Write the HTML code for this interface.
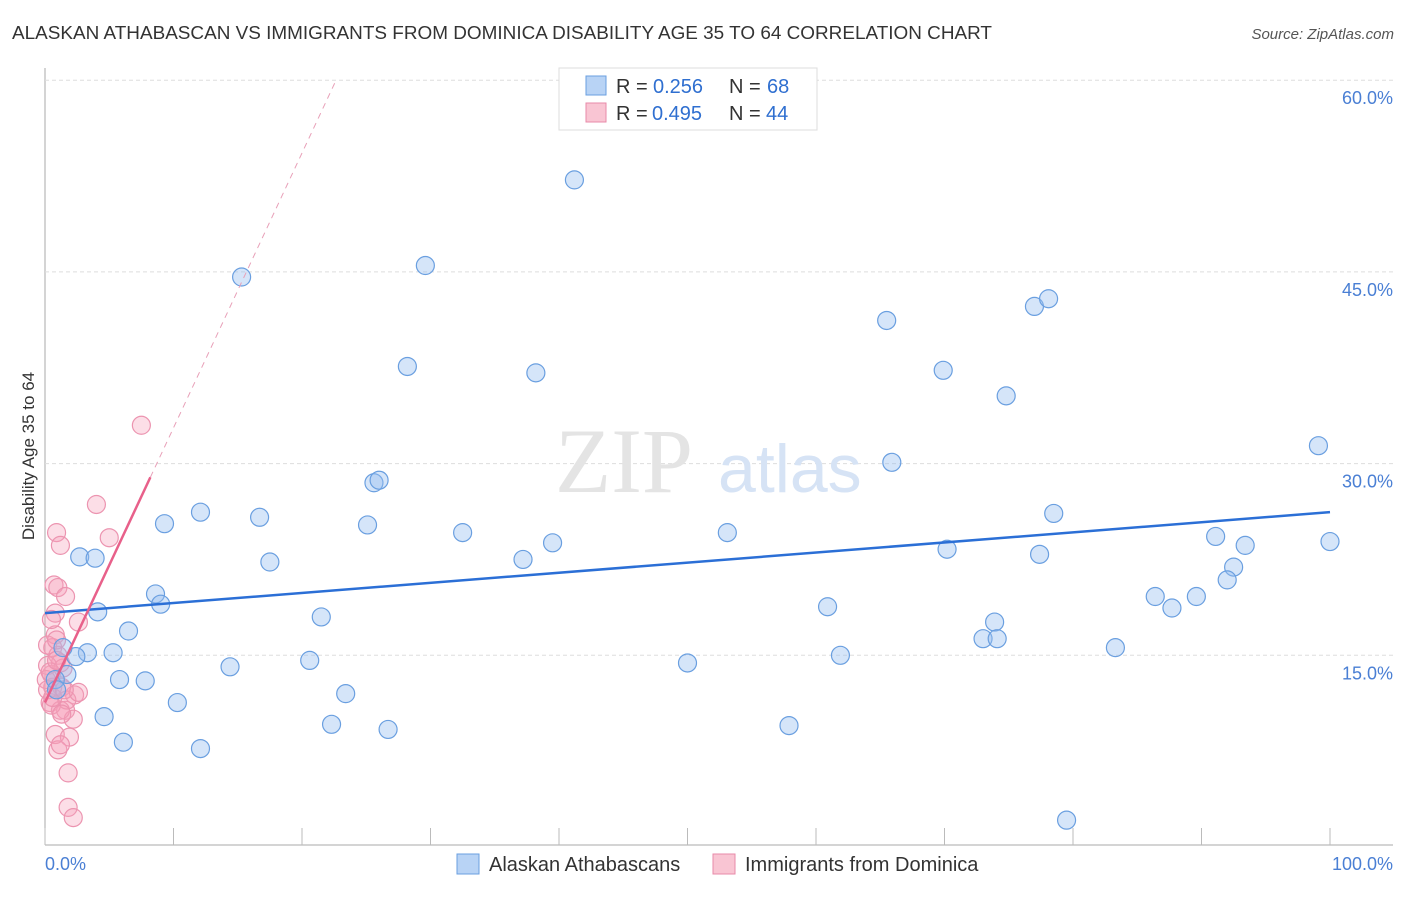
<!DOCTYPE html>
<html><head><meta charset="utf-8"><style>
body{margin:0;background:#fff;font-family:"Liberation Sans",sans-serif;}
</style></head><body>
<svg width="1406" height="892" xmlns="http://www.w3.org/2000/svg" font-family="Liberation Sans, sans-serif">
<text x="12" y="39" font-size="18" fill="#333" textLength="980" lengthAdjust="spacingAndGlyphs">ALASKAN ATHABASCAN VS IMMIGRANTS FROM DOMINICA DISABILITY AGE 35 TO 64 CORRELATION CHART</text>
<text x="1394" y="39" font-size="15" fill="#555" font-style="italic" text-anchor="end">Source: ZipAtlas.com</text>
<text x="34" y="456" font-size="17" fill="#333" text-anchor="middle" transform="rotate(-90 34 456)">Disability Age 35 to 64</text>
<g id="grid"></g>
<text x="555" y="492" font-size="92" fill="#e4e4e4" font-family="Liberation Serif, serif">ZIP</text>
<text x="718" y="492" font-size="68" fill="#d6e3f5">atlas</text>
<g id="marks"></g>
<g>
<rect x="559" y="68" width="258" height="62" fill="#fff" stroke="#ddd"/>
<rect x="586" y="76" width="20" height="19" fill="#b8d3f5" stroke="#6a9fe0"/>
<rect x="586" y="103" width="20" height="19" fill="#f9c5d3" stroke="#e88aa8"/>
<text x="616" y="93" font-size="20" fill="#333">R =</text><text x="653" y="93" font-size="20" fill="#2f6fd0">0.256</text>
<text x="729" y="93" font-size="20" fill="#333">N =</text><text x="767" y="93" font-size="20" fill="#2f6fd0">68</text>
<text x="616" y="120" font-size="20" fill="#333">R =</text><text x="652" y="120" font-size="20" fill="#2f6fd0">0.495</text>
<text x="729" y="120" font-size="20" fill="#333">N =</text><text x="766" y="120" font-size="20" fill="#2f6fd0">44</text>
</g>
<g>
<rect x="457" y="854" width="22" height="20" fill="#b8d3f5" stroke="#6a9fe0"/>
<text x="489" y="871" font-size="20" fill="#333">Alaskan Athabascans</text>
<rect x="713" y="854" width="22" height="20" fill="#f9c5d3" stroke="#e88aa8"/>
<text x="745" y="871" font-size="20" fill="#333">Immigrants from Dominica</text>
</g>
</svg>
<script>
const yTicks=[15,30,45,60];
const yTickLabels=["15.0%","30.0%","45.0%","60.0%"];
const xTickLabels=["0.0%","100.0%"];
const blueX=[41.2,15.3,29.6,28.2,38.2,65.5,69.9,77.0,78.1,74.8,99.1,65.9,25.6,26.0,9.3,12.1,16.7,25.1,32.5,37.2,39.5,53.1,78.5,70.2,77.4,91.1,93.4,100,92.5,92.0,2.7,3.9,8.6,9.0,4.1,6.5,17.5,21.5,60.9,86.4,87.7,89.6,73.9,73.0,74.1,83.3,61.9,50.0,20.6,14.4,3.3,5.3,2.4,1.4,1.7,0.8,5.8,7.8,23.4,10.3,4.6,22.3,26.7,57.9,6.1,12.1,79.5,0.9];
const blueY=[52.2,44.6,45.5,37.6,37.1,41.2,37.3,42.3,42.9,35.3,31.4,30.1,28.5,28.7,25.3,26.2,25.8,25.2,24.6,22.5,23.8,24.6,26.1,23.3,22.9,24.3,23.6,23.9,21.9,20.9,22.7,22.6,19.8,19.0,18.4,16.9,22.3,18.0,18.8,19.6,18.7,19.6,17.6,16.3,16.3,15.6,15.0,14.4,14.6,14.1,15.2,15.2,14.9,15.6,13.5,13.1,13.1,13.0,12.0,11.3,10.2,9.6,9.2,9.5,8.2,7.7,2.1,12.3];
const pinkX=[4.0,7.5,0.9,1.2,5.0,0.7,1.0,1.6,0.8,2.6,0.8,0.6,1.0,1.2,0.5,0.6,2.3,0.4,1.6,2.2,0.8,1.9,1.0,1.8,1.8,2.2,1.2,1.3,0.2,0.1,0.5,1.2,1.4,1.7,0.2,2.6,0.2,0.4,0.9,1.3,0.6,0.9,0.5,1.5];
const pinkY=[26.8,33.0,24.6,23.6,24.2,20.5,20.3,19.6,18.3,17.6,16.6,15.6,15.0,14.4,13.5,12.5,11.9,11.3,10.7,10.0,8.8,8.6,7.6,5.8,3.1,2.3,10.7,12.5,14.2,13.1,11.1,8.0,14.0,11.5,15.8,12.1,12.3,13.7,14.6,10.4,11.7,16.2,17.8,12.3];
const blueTrend=[18.3,26.2];
const pinkTrend={b:11.3,m:2.15};
const NS="http://www.w3.org/2000/svg";
const X=v=>45+v*12.85, Y=v=>847-v*12.78;
function mk(t,a,p){const e=document.createElementNS(NS,t);for(const k in a)e.setAttribute(k,a[k]);p.appendChild(e);return e;}
const g=document.getElementById('grid'), m=document.getElementById('marks');
let ax=mk('line',{x1:45,y1:68,x2:45,y2:845,stroke:'#aaa'},g);

let bx=mk('line',{x1:45,y1:845,x2:1393,y2:845,stroke:'#aaa'},g);

yTicks.forEach((t,i)=>{
 let l=mk('line',{x1:45,y1:Y(t),x2:1393,y2:Y(t),stroke:'#ddd','stroke-dasharray':'4,3'},g);
 
 let tx=mk('text',{x:1393,y:Y(t)+24,'font-size':18,fill:'#4a7fd4','text-anchor':'end'},g);
 tx.textContent=yTickLabels[i];
 
});
for(let i=0;i<=10;i++){let l=mk('line',{x1:X(i*10),y1:828,x2:X(i*10),y2:845,stroke:'#bbb'},g);
 }
[[0,'start'],[100,'end']].forEach((d,i)=>{let t=mk('text',{x:i?1393:45,y:870,'font-size':18,fill:'#4a7fd4','text-anchor':d[1]},g);
 t.textContent=xTickLabels[i];});
pinkX.forEach((x,i)=>{let c=mk('circle',{cx:X(x),cy:Y(pinkY[i]),r:9,fill:'rgba(245,160,185,0.35)',stroke:'#ec94b0','stroke-width':1.2},m);
 });
blueX.forEach((x,i)=>{let c=mk('circle',{cx:X(x),cy:Y(blueY[i]),r:9,fill:'rgba(150,190,240,0.4)',stroke:'#6a9fe0','stroke-width':1.2},m);
 });
let bt=mk('line',{x1:X(0),y1:Y(blueTrend[0]),x2:X(100),y2:Y(blueTrend[1]),stroke:'#2b6fd6','stroke-width':2.5},m);

const px2=8.2, pxEnd=(60-pinkTrend.b)/pinkTrend.m;
let pt=mk('line',{x1:X(0),y1:Y(pinkTrend.b),x2:X(px2),y2:Y(pinkTrend.b+pinkTrend.m*px2),stroke:'#e8608a','stroke-width':2.5},m);

let pd=mk('line',{x1:X(px2),y1:Y(pinkTrend.b+pinkTrend.m*px2),x2:X(pxEnd),y2:Y(60),stroke:'#e8a0b8','stroke-width':1,'stroke-dasharray':'6,5'},m);

</script>
</body></html>
